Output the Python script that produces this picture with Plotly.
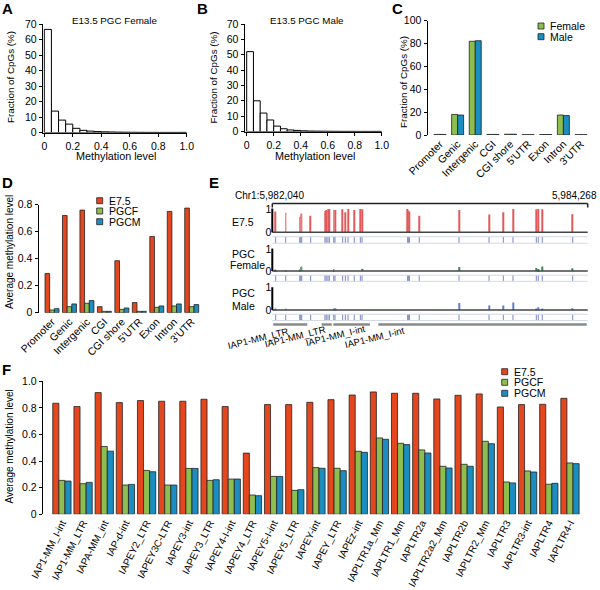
import plotly.graph_objects as go

# ---- data ----
bin_left = [0.00, 0.05, 0.10, 0.15, 0.20, 0.25, 0.30, 0.35, 0.40, 0.45,
            0.50, 0.55, 0.60, 0.65, 0.70, 0.75, 0.80, 0.85, 0.90, 0.95]
female_hist = [66.5, 13.8, 8.0, 5.4, 2.7, 1.4, 0.9, 0.6, 0.45, 0.35,
               0.25, 0.2, 0.15, 0.12, 0.1, 0.1, 0.08, 0.08, 0.08, 0.1]
male_hist = [52.0, 20.0, 12.0, 7.5, 3.5, 1.8, 1.0, 0.7, 0.45, 0.3,
             0.25, 0.2, 0.15, 0.12, 0.1, 0.1, 0.08, 0.08, 0.08, 0.1]

regions = ['Promoter', 'Genic', 'Intergenic', 'CGI', 'CGI shore', "5'UTR", 'Exon', 'Intron', "3'UTR"]
c_female = [0.5, 18.0, 82.0, 0.5, 0.7, 0.3, 0.4, 17.5, 0.3]
c_male = [0.5, 17.5, 82.5, 0.5, 0.7, 0.3, 0.4, 17.0, 0.3]

d_e75 = [0.29, 0.72, 0.76, 0.045, 0.385, 0.075, 0.565, 0.75, 0.775]
d_pgcf = [0.02, 0.045, 0.07, 0.01, 0.025, 0.01, 0.04, 0.05, 0.045]
d_pgcm = [0.03, 0.065, 0.09, 0.01, 0.035, 0.01, 0.05, 0.065, 0.06]

cpg_pos = [5982064, 5982135, 5982234, 5982241, 5982248, 5982311, 5982412, 5982421,
           5982433, 5982443, 5982474, 5982483, 5982537, 5982556, 5982575, 5982619,
           5982662, 5982674, 5982996, 5983004, 5983008, 5983078, 5983359, 5983571,
           5983672, 5983740, 5983905, 5983919, 5983947, 5984162]
e75_meth = [0.89, 0.84, 0.67, 0.79, 0.81, 0.71, 0.91, 0.96, 1.0, 1.0, 0.96, 0.96,
            0.99, 0.86, 1.0, 0.96, 1.0, 0.99, 1.0, 0.93, 0.89, 0.71, 0.96, 0.76,
            0.86, 1.0, 0.99, 1.0, 0.99, 0.77]
fem_meth = [0.07, 0.04, 0.08, 0.18, 0.21, 0, 0, 0, 0, 0, 0.09, 0, 0, 0, 0, 0,
            0, 0.1, 0, 0, 0, 0, 0.18, 0, 0, 0, 0.14, 0.09, 0.2, 0.13]
male_meth = [0.07, 0.04, 0, 0, 0, 0, 0, 0, 0, 0, 0.08, 0.08, 0, 0, 0, 0,
             0, 0, 0, 0, 0, 0, 0.31, 0.2, 0.2, 0.34, 0.06, 0.13, 0.04, 0.08]
chr_start, chr_end = 5982040, 5984268
feat_start = [5982047, 5982389, 5982471, 5982789]
feat_end = [5982287, 5982460, 5982730, 5984261]
feat_names = ['IAP1-MM_LTR', 'IAP1-MM_LTR', 'IAP1-MM_I-int', 'IAP1-MM_I-int']

repeats = ['IAP1-MM_I-int', 'IAP1-MM_LTR', 'IAPA-MM_int', 'IAP-d-int', 'IAPEY2_LTR',
           'IAPEY3C-LTR', 'IAPEY3-int', 'IAPEY3_LTR', 'IAPEY4-I-int', 'IAPEY4_LTR',
           'IAPEY5-I-int', 'IAPEY5_LTR', 'IAPEY-int', 'IAPEY_LTR', 'IAPEz-int',
           'IAPLTR1a_Mm', 'IAPLTR1_Mm', 'IAPLTR2a', 'IAPLTR2a2_Mm', 'IAPLTR2b',
           'IAPLTR2_Mm', 'IAPLTR3', 'IAPLTR3-int', 'IAPLTR4', 'IAPLTR4-I']
f_e75 = [0.835, 0.81, 0.915, 0.84, 0.855, 0.85, 0.85, 0.865, 0.81, 0.46, 0.825, 0.825,
         0.842, 0.862, 0.897, 0.92, 0.91, 0.91, 0.867, 0.895, 0.905, 0.807, 0.825, 0.827, 0.872]
f_pgcf = [0.255, 0.23, 0.51, 0.22, 0.33, 0.22, 0.345, 0.255, 0.265, 0.145, 0.285, 0.18,
          0.351, 0.346, 0.474, 0.574, 0.534, 0.484, 0.361, 0.376, 0.549, 0.243, 0.326, 0.226, 0.386]
f_pgcm = [0.25, 0.24, 0.475, 0.225, 0.32, 0.22, 0.345, 0.26, 0.265, 0.14, 0.285, 0.185,
          0.346, 0.328, 0.466, 0.564, 0.524, 0.461, 0.348, 0.361, 0.531, 0.236, 0.318, 0.233, 0.381]

# ---- style ----
W, H = 600, 590
RED, GREEN, BLUE = '#e4461e', '#8dbe4f', '#1b8dc0'
FONT = 'Liberation Sans, Arial, sans-serif'


def px(x):
    return x / W


def py(y):
    return 1 - y / H


def num_axis(dom, rng, anchor, **kw):
    d = dict(domain=dom, range=rng, anchor=anchor, showline=True, linecolor='black',
             linewidth=1, ticks='outside', ticklen=3.5, tickwidth=1, tickcolor='black',
             showgrid=False, zeroline=False, automargin=False, tickfont=dict(size=10.5))
    d.update(kw)
    return d


def cat_axis(dom, rng, anchor, cats, angle, size=10.5):
    return dict(domain=dom, range=rng, anchor=anchor, type='category', showline=False,
                ticks='', showgrid=False, zeroline=False, automargin=False, tickmode='array',
                tickvals=cats, ticktext=cats, tickangle=angle, tickfont=dict(size=size))


bar_line = dict(color='#222222', width=0.8)
fig = go.Figure()

# A and B histograms
fig.add_trace(go.Bar(x=bin_left, y=female_hist, width=0.05, offset=0, xaxis='x', yaxis='y',
                     marker=dict(color='white', line=dict(color='black', width=1))))
fig.add_trace(go.Bar(x=bin_left, y=male_hist, width=0.05, offset=0, xaxis='x2', yaxis='y2',
                     marker=dict(color='white', line=dict(color='black', width=1))))

# C
fig.add_trace(go.Bar(x=regions, y=c_female, width=0.34, offset=-0.34, xaxis='x3', yaxis='y3',
                     marker=dict(color=GREEN, line=bar_line)))
fig.add_trace(go.Bar(x=regions, y=c_male, width=0.34, offset=0, xaxis='x3', yaxis='y3',
                     marker=dict(color=BLUE, line=bar_line)))

# D
for vals, col, off in [(d_e75, RED, -0.4), (d_pgcf, GREEN, -0.133), (d_pgcm, BLUE, 0.134)]:
    fig.add_trace(go.Bar(x=regions, y=vals, width=0.266, offset=off, xaxis='x4', yaxis='y4',
                         marker=dict(color=col, line=bar_line)))

# F
for vals, col, off in [(f_e75, RED, -0.432), (f_pgcf, GREEN, -0.144), (f_pgcm, BLUE, 0.144)]:
    fig.add_trace(go.Bar(x=repeats, y=vals, width=0.288, offset=off, xaxis='x5', yaxis='y5',
                         marker=dict(color=col, line=bar_line)))

# E browser tracks
tracks = [('y6', e75_meth, '#e05a5a'), ('y7', fem_meth, '#2f8f55'), ('y8', male_meth, '#5b7fcc')]
for yax, vals, col in tracks:
    fig.add_trace(go.Bar(x=cpg_pos, y=vals, width=6, offset=-3, xaxis='x6', yaxis=yax,
                         marker=dict(color=col, line=dict(width=0))))
    fig.add_trace(go.Scatter(x=cpg_pos, y=[-0.33] * len(cpg_pos), mode='markers',
                             xaxis='x6', yaxis=yax,
                             marker=dict(symbol='line-ns', size=4.5,
                                         line=dict(color='#5a6ab4', width=0.8))))

fx, fy = [], []
for s, e in zip(feat_start, feat_end):
    fx += [s, e, None]
    fy += [0.5, 0.5, None]
fig.add_trace(go.Scatter(x=fx, y=fy, mode='lines', xaxis='x6', yaxis='y9',
                         line=dict(color='#8a8a8a', width=2.5)))

zero_one = dict(tickmode='array', tickvals=[0, 1], ticktext=['0', '1'])
e_y = dict(range=[-0.55, 1.05], anchor='x6', showline=False, ticks='', showgrid=False,
           zeroline=False, automargin=False, tickfont=dict(size=10.5), **zero_one)
tick01 = dict(tickmode='array', tickvals=[0, 0.2, 0.4, 0.6, 0.8, 1.0],
              ticktext=['0', '0.2', '0.4', '0.6', '0.8', '1.0'])
layout_axes = dict(
    xaxis=num_axis([px(43.3), px(186.7)], [-0.007, 1.0], 'y', **tick01),
    yaxis=num_axis([py(132.5), py(24)], [0, 70], 'x', dtick=10),
    xaxis2=num_axis([px(245), px(381.7)], [-0.0126, 1.0], 'y2', **tick01),
    yaxis2=num_axis([py(131.5), py(24)], [0, 70], 'x2', dtick=10),
    xaxis3=cat_axis([px(428), px(590)], [-0.68, 8.51], 'y3', regions, -45),
    yaxis3=num_axis([py(135), py(20.7)], [0, 100], 'x3', dtick=20),
    xaxis4=cat_axis([px(39), px(200)], [-0.745, 8.475], 'y4', regions, -45),
    yaxis4=num_axis([py(312.7), py(204.7)], [0, 0.8], 'x4', tickmode='array',
                    tickvals=[0, 0.2, 0.4, 0.6, 0.8], ticktext=['0', '0.2', '0.4', '0.6', '0.8']),
    xaxis5=cat_axis([px(43.3), px(585)], [-0.879, 24.71], 'y5', repeats, -63, size=10),
    yaxis5=num_axis([py(514.3), py(381.3)], [0, 1.0], 'x5', **tick01),
    xaxis6=dict(domain=[px(272.3), px(587.7)], range=[chr_start, chr_end], anchor='y8',
                visible=False, automargin=False),
    yaxis6=dict(domain=[py(245.1), py(207.8)], **e_y),
    yaxis7=dict(domain=[py(283.1), py(247.9)], **e_y),
    yaxis8=dict(domain=[py(322.3), py(286.6)], **e_y),
    yaxis9=dict(domain=[py(328), py(321)], range=[0, 1], anchor='x6', visible=False, automargin=False),
)

shapes = []
ann = []


def text(x, y, s, size=10, angle=0, xanchor='center', bold=False, yanchor='middle'):
    ann.append(dict(x=px(x), y=py(y), xref='paper', yref='paper', text=('<b>%s</b>' % s) if bold else s,
                    showarrow=False, textangle=angle, xanchor=xanchor, yanchor=yanchor,
                    font=dict(size=size, family=FONT, color='black')))


# panel letters
for lab, x, y in [('A', 0, 8.5), ('B', 195, 8.5), ('C', 390, 8.5), ('D', 0, 182), ('E', 207, 182), ('F', 0, 369)]:
    text(x, y, lab, size=15, xanchor='left', bold=True)

# titles
text(114.7, 20, 'E13.5 PGC Female', size=9.8)
text(307, 20, 'E13.5 PGC Male', size=9.8)
text(116, 156, 'Methylation level', size=10.8)
text(315, 156, 'Methylation level', size=10.8)
text(10, 77, 'Fraction of CpGs (%)', size=9.8, angle=-90)
text(213, 77.5, 'Fraction of CpGs (%)', size=9.8, angle=-90)
text(403, 82, 'Fraction of CpGs (%)', size=9.8, angle=-90)
text(10, 252, 'Average methylation level', size=10, angle=-90)
text(8.5, 447, 'Average methylation level', size=10, angle=-90)


# manual legends
def legend(x, ys, labels, cols):
    for y, lab, col in zip(ys, labels, cols):
        shapes.append(dict(type='rect', xref='paper', yref='paper', x0=px(x), x1=px(x + 6),
                           y0=py(y + 3), y1=py(y - 3), fillcolor=col,
                           line=dict(color='#222222', width=0.8)))
        text(x + 10, y, lab, size=10.5, xanchor='left')


legend(538, [26, 36.7], ['Female', 'Male'], [GREEN, BLUE])
legend(96.7, [200.7, 211, 221.7], ['E7.5', 'PGCF', 'PGCM'], [RED, GREEN, BLUE])
legend(501.7, [371.7, 382.3, 393.3], ['E7.5', 'PGCF', 'PGCM'], [RED, GREEN, BLUE])

# E decorations
x0e, x1e = px(272.3), px(587.7)
shapes.append(dict(type='line', xref='paper', yref='paper', x0=x0e, x1=x1e, y0=py(203.5), y1=py(203.5),
                   line=dict(color='#222222', width=1.5)))
for xe in (x0e, x1e):
    shapes.append(dict(type='line', xref='paper', yref='paper', x0=xe, x1=xe, y0=py(203.5), y1=py(207.5),
                       line=dict(color='#222222', width=1.5)))
text(233, 195, 'Chr1:5,982,040', size=10, xanchor='left')
text(599, 195, '5,984,268', size=10, xanchor='right')
for yax in ('y6', 'y7', 'y8'):
    shapes.append(dict(type='line', xref='paper', yref=yax, x0=x0e, x1=x1e, y0=-0.19, y1=-0.19,
                       line=dict(color='#d3d8e8', width=1)))
    shapes.append(dict(type='line', xref='paper', yref=yax, x0=x0e, x1=x1e, y0=-0.47, y1=-0.47,
                       line=dict(color='#d3d8e8', width=1)))
    shapes.append(dict(type='line', xref='paper', yref=yax, x0=x0e, x1=x1e, y0=0, y1=0,
                       line=dict(color='#444444', width=1.5)))
    shapes.append(dict(type='line', xref='paper', yref=yax, x0=x0e, x1=x0e, y0=0, y1=1.02,
                       line=dict(color='black', width=2)))
text(230, 221.7, 'E7.5', xanchor='left', size=10.5)
text(230, 254, 'PGC', xanchor='left', size=10.5)
text(228, 264.5, 'Female', xanchor='left', size=10.5)
text(230, 293.3, 'PGC', xanchor='left', size=10.5)
text(230, 305.7, 'Male', xanchor='left', size=10.5)
for name, (cx, cy) in zip(feat_names, [(257.5, 338.5), (295, 336.5), (335.5, 335.5), (374, 337)]):
    text(cx, cy, name, size=9.5, angle=-14)

fig.update_layout(
    template='none',
    width=W, height=H, margin=dict(l=0, r=0, t=0, b=0, autoexpand=False),
    paper_bgcolor='white', plot_bgcolor='white',
    font=dict(family=FONT, size=10, color='black'),
    barmode='overlay', showlegend=False, hovermode=False,
    shapes=shapes, annotations=ann,
    **layout_axes
)

# the page's default body margin would shift the 600x590 figure off the window
fig.write_html("out.html", config={'displayModeBar': False},
               post_script="document.body.style.margin='0';")
